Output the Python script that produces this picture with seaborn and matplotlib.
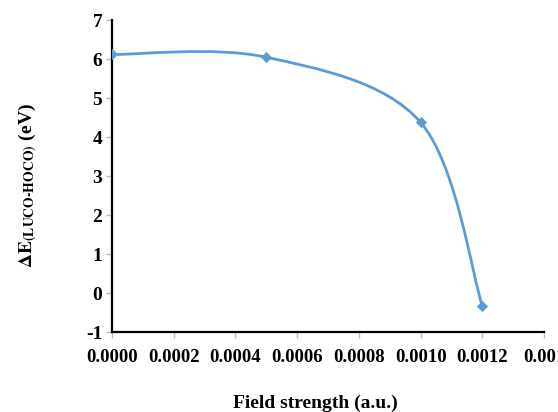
import numpy as np
import matplotlib
matplotlib.use("Agg")
import matplotlib.pyplot as plt
from matplotlib.path import Path
from matplotlib.patches import PathPatch
import seaborn as sns

# data
field = [0.0, 0.0005, 0.0010, 0.0012]
gap = [6.12, 6.05, 4.38, -0.33]
xticks = [0.0, 0.0002, 0.0004, 0.0006, 0.0008, 0.0010, 0.0012, 0.0014]
xlabels = ["0.0000", "0.0002", "0.0004", "0.0006", "0.0008", "0.0010", "0.0012", "0.001"]
yticks = [-1, 0, 1, 2, 3, 4, 5, 6, 7]

sns.set_style("ticks")
plt.rcParams["font.family"] = ["Liberation Serif", "DejaVu Serif"]
plt.rcParams["font.weight"] = "bold"
plt.rcParams["mathtext.fontset"] = "stix"
plt.rcParams["axes.unicode_minus"] = False
plt.rcParams["text.color"] = "black"
plt.rcParams["axes.labelcolor"] = "black"
plt.rcParams["xtick.labelcolor"] = "black"
plt.rcParams["ytick.labelcolor"] = "black"

blue = "#5B9BD5"
fig = plt.figure(figsize=(5.58, 4.12), dpi=100)
ax = fig.add_axes([0.2007, 0.194, 0.7742, 0.757])

# excel style smoothed line: catmull-rom tangents -> cubic bezier
pts = np.column_stack([field, gap])
verts = [pts[0]]
codes = [Path.MOVETO]
n = len(pts)
for i in range(n - 1):
    p0 = pts[max(i - 1, 0)]
    p1 = pts[i]
    p2 = pts[i + 1]
    p3 = pts[min(i + 2, n - 1)]
    c1 = p1 + (p2 - p0) / 6.0
    c2 = p2 - (p3 - p1) / 6.0
    verts += [c1, c2, p2]
    codes += [Path.CURVE4] * 3
ax.add_patch(PathPatch(Path(verts, codes), facecolor="none", edgecolor=blue, lw=2.0, zorder=2))

sns.scatterplot(x=field, y=gap, marker="D", s=28, color=blue, edgecolor=blue, ax=ax, zorder=3)

ax.set_xlim(0, 0.0014)
ax.set_ylim(-1, 7)
ax.set_xticks(xticks)
ax.set_xticklabels(xlabels)
ax.set_yticks(yticks)
ax.tick_params(axis="both", labelsize=14, color="#BBBBBB", length=4, width=1, pad=3)
ax.tick_params(axis="x", pad=8, labelsize=13.5)
for lab in ax.get_xticklabels() + ax.get_yticklabels():
    lab.set_fontweight("bold")

sns.despine(ax=ax)
ax.spines["left"].set_linewidth(1.6)
ax.spines["bottom"].set_linewidth(1.6)
ax.spines["left"].set_color("black")
ax.spines["bottom"].set_color("black")

ax.set_xlabel("Field strength (a.u.)", fontsize=14, fontweight="bold")
ax.xaxis.set_label_coords(0.47, -0.2)
ax.set_ylabel(r"$\mathbf{\Delta E_{(LUCO\text{-}HOCO)}}$ (eV)", fontsize=14, fontweight="bold")
ax.yaxis.set_label_coords(-0.17, 0.47)

fig.savefig("out.png", dpi=100)
